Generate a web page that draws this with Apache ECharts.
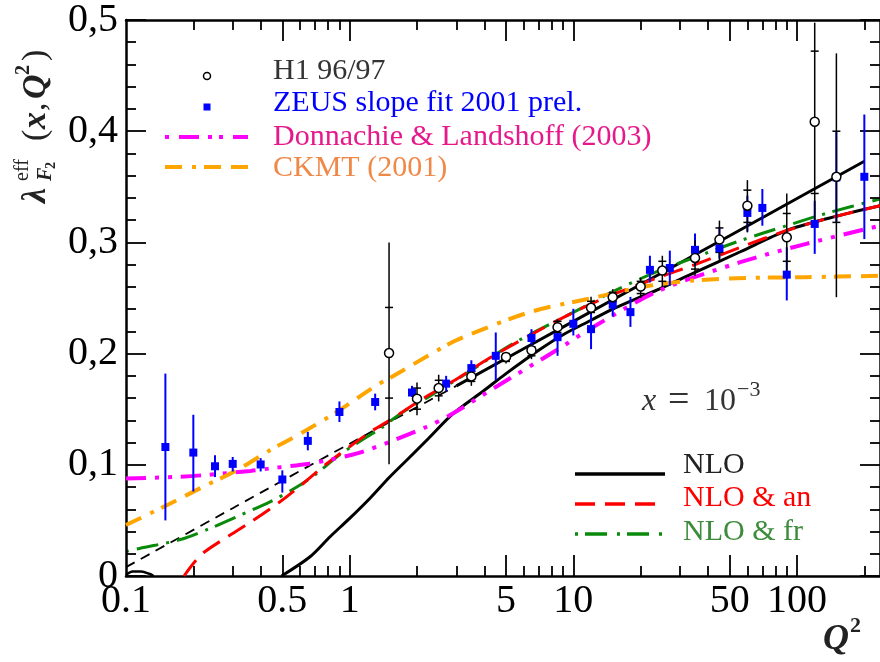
<!DOCTYPE html>
<html><head><meta charset="utf-8">
<script src="https://cdn.jsdelivr.net/npm/echarts@6/dist/echarts.min.js"></script>
<style>html,body{margin:0;padding:0;background:#fff}#c{width:880px;height:662px}</style>
</head><body><div id="c"></div>
<script>
// ---------- data ----------
const h1Q2       = [1.5, 2, 2.5, 3.5, 5, 6.5, 8.5, 12, 15, 20, 25, 35, 45, 60, 90, 120, 150];
const h1Lambda   = [0.2005, 0.1595, 0.169, 0.1795, 0.197, 0.203, 0.2238, 0.2412, 0.2507, 0.2603, 0.2747, 0.286, 0.3025, 0.333, 0.3046, 0.4085, 0.359];
const h1TotLow   = [0.1005, 0.1445, 0.157, 0.171, 0.191, 0.195, 0.2176, 0.2356, 0.2457, 0.2502, 0.260, 0.270, 0.2837, 0.309, 0.267, 0.320, 0.2507];
const h1TotHigh  = [0.300, 0.174, 0.181, 0.188, 0.2015, 0.208, 0.2308, 0.2512, 0.2579, 0.2682, 0.288, 0.302, 0.3196, 0.356, 0.344, 0.4976, 0.470];
const h1StatLow  = [0.160, 0.150, 0.162, 0.175, 0.193, 0.198, 0.219, 0.237, 0.247, 0.254, 0.265, 0.276, 0.291, 0.318, 0.283, 0.344, 0.318];
const h1StatHigh = [0.2415, 0.169, 0.176, 0.184, 0.200, 0.206, 0.229, 0.247, 0.255, 0.265, 0.283, 0.296, 0.313, 0.347, 0.326, 0.472, 0.400];

const zeusQ2     = [0.15, 0.2, 0.25, 0.3, 0.4, 0.5, 0.65, 0.9, 1.3, 1.9, 2.7, 3.5, 4.5, 6.5, 8.5, 10, 12, 15, 18, 22, 27, 35, 45, 60, 70, 90, 120, 150, 200];
const zeusLambda = [0.116, 0.111, 0.0987, 0.1008, 0.1003, 0.0868, 0.1215, 0.1475, 0.1565, 0.165, 0.173, 0.187, 0.198, 0.214, 0.2148, 0.2268, 0.222, 0.244, 0.2373, 0.2753, 0.277, 0.2933, 0.2947, 0.3265, 0.331, 0.271, 0.3166, 0.3585, 0.359];
const zeusLow    = [0.050, 0.076, 0.089, 0.094, 0.094, 0.075, 0.113, 0.1385, 0.149, 0.161, 0.166, 0.180, 0.176, 0.204, 0.198, 0.2163, 0.204, 0.2333, 0.224, 0.264, 0.261, 0.279, 0.2855, 0.3097, 0.315, 0.2478, 0.2897, 0.318, 0.303];
const zeusHigh   = [0.182, 0.145, 0.1086, 0.107, 0.106, 0.095, 0.1296, 0.157, 0.164, 0.171, 0.180, 0.194, 0.219, 0.222, 0.2298, 0.2403, 0.237, 0.2513, 0.251, 0.288, 0.2926, 0.308, 0.3136, 0.342, 0.348, 0.2956, 0.3375, 0.400, 0.415];

const h1FitDashed = [[0.1, 0.008], [0.3, 0.061], [1, 0.119], [3, 0.171]];
const h1FitSolid  = [[3, 0.171], [10, 0.229], [50, 0.306], [200, 0.373]];
const nloBump  = [[0.1, 0.001], [0.107, 0.004], [0.117, 0.004], [0.127, 0.002], [0.133, 0]];
const nloCurve = [[0.496, 0], [0.665, 0.0173], [0.817, 0.0353], [1.0, 0.0518], [1.23, 0.0697], [1.51, 0.089], [1.86, 0.107], [2.25, 0.1236], [2.9, 0.146], [4, 0.167], [5, 0.182], [7, 0.203], [9, 0.217], [12, 0.230], [15, 0.240], [20, 0.251], [24.2, 0.258], [35, 0.273], [55.8, 0.2916], [89.7, 0.3106], [140, 0.322], [235, 0.333]];
const nloAnCurve = [[0.1817, 0], [0.203, 0.0128], [0.225, 0.0218], [0.292, 0.0368], [0.37, 0.050], [0.488, 0.0667], [0.62, 0.0832], [0.79, 0.101], [1.02, 0.1176], [1.27, 0.131], [1.51, 0.140], [1.86, 0.152], [2.25, 0.1625], [3, 0.177], [4.22, 0.196], [6.6, 0.218], [10.4, 0.2388], [15, 0.253], [24.2, 0.2687], [35, 0.28], [55.8, 0.2956], [89.7, 0.3106], [140, 0.322], [235, 0.333]];
const nloFrCurve = [[0.1, 0.022], [0.115, 0.0248], [0.177, 0.033], [0.237, 0.0428], [0.312, 0.0532], [0.44, 0.0667], [0.58, 0.080], [0.71, 0.092], [0.875, 0.107], [1.07, 0.119], [1.37, 0.1326], [1.73, 0.1475], [2.25, 0.161], [3.5, 0.185], [5.36, 0.2089], [11.1, 0.2418], [15.1, 0.256], [24.2, 0.2747], [35, 0.2866], [55.8, 0.3016], [89.7, 0.315], [140, 0.327], [235, 0.339]];
const dlCurve = [[0.1, 0.0877], [0.163, 0.089], [0.22, 0.0906], [0.36, 0.0945], [0.44, 0.0967], [0.66, 0.101], [0.817, 0.1047], [1.07, 0.110], [1.51, 0.1206], [2.2, 0.134], [2.8, 0.1445], [4.5, 0.170], [8.4, 0.203], [12.6, 0.2253], [24.2, 0.2567], [55.8, 0.2822], [110, 0.2987], [235, 0.315]];
const ckmtCurve = [[0.1, 0.0458], [0.157, 0.065], [0.22, 0.080], [0.312, 0.095], [0.44, 0.113], [0.62, 0.1295], [0.875, 0.1475], [1.32, 0.1715], [1.51, 0.178], [2.7, 0.2074], [3.22, 0.2148], [6.4, 0.2373], [12.6, 0.2507], [21.8, 0.261], [34.6, 0.2657], [59.5, 0.268], [110, 0.2687], [235, 0.270]];

const xLabelValues = [0.1, 0.5, 1, 5, 10, 50, 100];
const xMajorTicks  = [0.5, 1, 5, 10, 50, 100];
const xMinorTicks  = [0.2, 0.3, 0.4, 0.6, 0.7, 0.8, 0.9, 2, 3, 4, 6, 7, 8, 9, 20, 30, 40, 60, 70, 80, 90, 200];

// ---------- chart ----------
const FONT = '"Liberation Serif", "Times New Roman", serif';
const X_MIN = 0.1, X_MAX = 235;
const LMIN = Math.log10(X_MIN), LMAX = Math.log10(X_MAX);
const chart = echarts.init(document.getElementById('c'));

function tickAxis(pos, vals, len, showLine, labels) {
  return {
    type: 'value', position: pos, min: LMIN, max: LMAX,
    axisLine: { show: showLine, onZero: false, lineStyle: { color: '#000', width: 2.5 } },
    axisTick: { show: true, inside: true, length: len, customValues: vals.map(v => Math.log10(v)), lineStyle: { color: '#000', width: 1.8 } },
    axisLabel: labels ? {
      show: true, customValues: labels.map(v => Math.log10(v)), margin: 5,
      fontFamily: FONT, fontSize: 40, color: '#000',
      formatter: v => String(Math.round(Math.pow(10, v) * 10) / 10)
    } : { show: false },
    splitLine: { show: false }, minorTick: { show: false }, z: 5
  };
}
function yAx(pos, labels) {
  return {
    type: 'value', position: pos, min: 0, max: 0.5, interval: 0.1,
    axisLine: { show: true, onZero: false, lineStyle: { color: '#000', width: 2.5 } },
    axisTick: { show: true, inside: true, length: 20, lineStyle: { color: '#000', width: 1.8 } },
    minorTick: { show: true, splitNumber: 5, length: 10, lineStyle: { color: '#000', width: 1.8 } },
    axisLabel: labels ? {
      show: true, margin: 8, fontFamily: FONT, fontSize: 40, color: '#000',
      showMinLabel: true, showMaxLabel: true,
      formatter: v => (v === 0 ? '0' : v.toFixed(1).replace('.', ','))
    } : { show: false },
    splitLine: { show: false }, z: 5
  };
}

function lineSeries(data, color, width, dash, z) {
  return {
    type: 'line', data: data, xAxisIndex: 0, yAxisIndex: 0, showSymbol: false, symbol: 'none',
    smooth: 0.3, clip: true, silent: true, z: z,
    lineStyle: { color: color, width: width, type: dash || 'solid', cap: 'butt' }
  };
}

const h1Data = h1Q2.map((q, i) => [q, h1Lambda[i], h1TotLow[i], h1TotHigh[i], h1StatLow[i], h1StatHigh[i]]);
const zeusData = zeusQ2.map((q, i) => [q, zeusLambda[i], zeusLow[i], zeusHigh[i]]);

function txt(x, y, s, size, color, style, extra) {
  return Object.assign({ type: 'text', x: x, y: y, z: 50, style: {
    text: s, fill: color, font: (style || '') + ' ' + size + 'px ' + FONT, align: 'left', verticalAlign: 'middle'
  } }, extra || {});
}
function legLine(x1, x2, y, color, width, dash) {
  return { type: 'line', z: 50, shape: { x1: x1, y1: y, x2: x2, y2: y }, style: { stroke: color, lineWidth: width, lineDash: dash || null, lineCap: 'butt' } };
}

const option = {
  animation: false,
  backgroundColor: '#fff',
  grid: { left: 126, right: 0, top: 19, bottom: 86 },
  xAxis: [
    { type: 'log', logBase: 10, min: X_MIN, max: X_MAX, show: false },
    tickAxis('bottom', xMajorTicks, 21, true, xLabelValues),
    tickAxis('bottom', xMinorTicks, 10, false, null),
    tickAxis('top', xMajorTicks, 21, true, null),
    tickAxis('top', xMinorTicks, 10, false, null)
  ],
  yAxis: [yAx('left', true), yAx('right', false)],
  series: [
    lineSeries(h1FitDashed, '#000', 1.8, [10, 7], 2),
    lineSeries(h1FitSolid, '#000', 3, 'solid', 2),
    lineSeries(nloBump, '#000', 2.5, 'solid', 3),
    lineSeries(nloCurve, '#000', 3, 'solid', 3),
    lineSeries(nloFrCurve, '#0a8a0a', 3, [3, 8, 22, 8], 4),
    lineSeries(nloAnCurve, '#ff0000', 3, [20, 10], 5),
    lineSeries(dlCurve, '#ff00ff', 4, [20, 9, 4, 9, 4, 9], 6),
    lineSeries(ckmtCurve, '#ffa500', 4, [17, 10, 4, 8, 17, 10], 7),
    {
      type: 'custom', xAxisIndex: 0, yAxisIndex: 0, data: zeusData, z: 10, silent: true,
      encode: { x: 0, y: 1 },
      renderItem: (params, api) => {
        const x = api.value(0);
        const a = api.coord([x, api.value(2)]), b = api.coord([x, api.value(3)]);
        return { type: 'line', shape: { x1: a[0], y1: a[1], x2: b[0], y2: b[1] }, style: { stroke: '#0000ff', lineWidth: 2 } };
      }
    },
    {
      type: 'custom', xAxisIndex: 0, yAxisIndex: 0, data: h1Data, z: 11, silent: true,
      encode: { x: 0, y: 1 },
      renderItem: (params, api) => {
        const x = api.value(0);
        const a = api.coord([x, api.value(2)]), b = api.coord([x, api.value(3)]);
        const s1 = api.coord([x, api.value(4)]), s2 = api.coord([x, api.value(5)]);
        const st = { stroke: '#000', lineWidth: 1.5 };
        return { type: 'group', children: [
          { type: 'line', shape: { x1: a[0], y1: a[1], x2: b[0], y2: b[1] }, style: st },
          { type: 'line', shape: { x1: s1[0] - 4, y1: s1[1], x2: s1[0] + 4, y2: s1[1] }, style: st },
          { type: 'line', shape: { x1: s2[0] - 4, y1: s2[1], x2: s2[0] + 4, y2: s2[1] }, style: st }
        ] };
      }
    },
    {
      type: 'scatter', xAxisIndex: 0, yAxisIndex: 0, data: zeusData.map(d => [d[0], d[1]]), z: 12, silent: true,
      symbol: 'rect', symbolSize: 8, itemStyle: { color: '#0000ff', opacity: 1 }
    },
    {
      type: 'scatter', xAxisIndex: 0, yAxisIndex: 0, data: h1Data.map(d => [d[0], d[1]]), z: 13, silent: true,
      symbol: 'circle', symbolSize: 9, itemStyle: { color: '#fff', borderColor: '#000', borderWidth: 1.5, opacity: 1 }
    }
  ],
  graphic: [
    // top legend
    { type: 'circle', z: 50, shape: { cx: 207, cy: 76, r: 3.5 }, style: { fill: '#fff', stroke: '#000', lineWidth: 1.5 } },
    { type: 'rect', z: 50, shape: { x: 203.5, y: 103.5, width: 7, height: 7 }, style: { fill: '#0000ff' } },
    legLine(165, 248, 137, '#ff00ff', 4, [4, 10, 20, 9, 4, 7]),
    legLine(165, 248, 167, '#ffa500', 4, [17, 10, 4, 8, 17, 10]),
    txt(273, 71, 'H1 96/97', 30, '#333'),
    txt(273, 103, 'ZEUS slope fit 2001 prel.', 30, '#0000ff'),
    txt(273, 137, 'Donnachie & Landshoff (2003)', 30, '#e6198c'),
    txt(273, 168, 'CKMT (2001)', 30, '#f08848'),
    // bottom-right legend
    legLine(575, 665, 474, '#000', 3.5, null),
    legLine(575, 657, 504, '#ff0000', 3.5, [20, 10]),
    legLine(575, 663, 534, '#0a8a0a', 3.5, [3, 7, 22, 10]),
    txt(683, 465, 'NLO', 30, '#222'),
    txt(683, 498, 'NLO & an', 30, '#ff0000'),
    txt(683, 532, 'NLO & fr', 30, '#3c8c3c'),
    // x = 10^-3
    txt(642, 402, 'x', 32, '#333', 'italic'),
    txt(668, 401, '=', 38, '#333'),
    txt(704, 402, '10', 32, '#333'),
    txt(737, 390, '\u22123', 22, '#333'),
    // Q^2 axis title
    txt(823, 640, 'Q', 36, '#222', 'italic bold'),
    txt(850, 626, '2', 22, '#222', 'bold'),
    // y axis title (rotated)
    {
      type: 'group', x: 36, y: 203, rotation: Math.PI / 2, z: 50,
      children: [
        txt(0, 0, '\u03bb', 34, '#222', 'italic bold'),
        txt(22, -13, 'eff', 20, '#222'),
        txt(22, 10, 'F', 20, '#222', 'italic bold'),
        txt(34, 15, '2', 14, '#222', 'bold'),
        txt(62, 0, '(', 34, '#222'),
        txt(74, 0, 'x', 34, '#222', 'italic bold'),
        txt(92, 0, ',', 34, '#222'),
        txt(104, 0, 'Q', 34, '#222', 'italic bold'),
        txt(128, -12, '2', 20, '#222', 'bold'),
        txt(142, 0, ')', 34, '#222')
      ]
    }
  ]
};
chart.setOption(option);
</script>
</body></html>
